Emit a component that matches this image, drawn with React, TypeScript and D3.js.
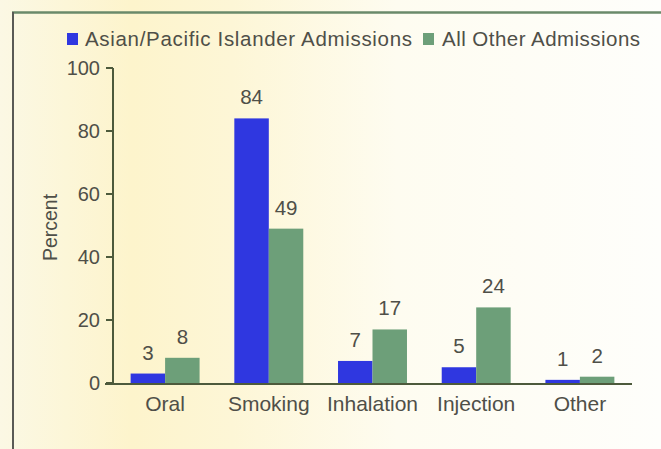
import React from "react";
import * as d3 from "d3";

const categories = ["Oral", "Smoking", "Inhalation", "Injection", "Other"];
const seriesNames = ["Asian/Pacific Islander Admissions", "All Other Admissions"];
const asianValues = [3, 84, 7, 5, 1];
const otherValues = [8, 49, 17, 24, 2];
const yTicks = [0, 20, 40, 60, 80, 100];

const W = 661;
const H = 449;
const FONT = "'Liberation Sans', Arial, Helvetica, sans-serif";
const TEXT = "#4f4f48";
const AXIS = "#4d5a3c";
const BLUE = "#2f37e0";
const GREEN = "#6d9f79";

export default function App() {
  const x = d3
    .scaleBand<string>()
    .domain(categories)
    .range([113, 632])
    .paddingInner(0.335)
    .paddingOuter(0.17);
  const xs = d3
    .scaleBand<string>()
    .domain(seriesNames)
    .range([0, x.bandwidth()]);
  const y = d3.scaleLinear().domain([0, 100]).range([383, 68]);
  const colors = [BLUE, GREEN];
  const series = [asianValues, otherValues];

  return (
    <svg
      width={W}
      height={H}
      style={{ position: "absolute", left: 0, top: 0, display: "block" }}
    >
      <defs>
        <linearGradient id="bg" x1="0" x2="1" y1="0" y2="0">
          <stop offset="0" stopColor="#fbf8e4" />
          <stop offset="0.2" stopColor="#fdf4cc" />
          <stop offset="0.35" stopColor="#fdf6d6" />
          <stop offset="0.6" stopColor="#fefcf0" />
          <stop offset="1" stopColor="#fefefb" />
        </linearGradient>
      </defs>
      <rect x={0} y={0} width={W} height={H} fill="url(#bg)" />
      {/* frame lines */}
      <line x1={12} x2={W} y1={12.5} y2={12.5} stroke="#6a8a6a" strokeWidth={2.5} />
      <line x1={13} x2={13} y1={12} y2={H} stroke="#5a5a55" strokeWidth={2} />

      {/* legend */}
      <g fontFamily={FONT} fontSize={20.5} fill={TEXT}>
        <rect x={67} y={33} width={11} height={12} fill={BLUE} />
        <text x={85} y={46} textLength={327} lengthAdjust="spacing">
          {seriesNames[0]}
        </text>
        <rect x={423} y={33} width={11} height={12} fill={GREEN} />
        <text x={442} y={46} textLength={198} lengthAdjust="spacing">
          {seriesNames[1]}
        </text>
      </g>

      {/* y axis */}
      <g fontFamily={FONT} fontSize={20} fill={TEXT}>
        <line x1={113} x2={113} y1={y(100)} y2={y(0)} stroke={AXIS} strokeWidth={2} />
        {yTicks.map((t) => (
          <g key={t}>
            <line x1={106} x2={113} y1={y(t)} y2={y(t)} stroke={AXIS} strokeWidth={2} />
            <text x={100} y={y(t)} dy="0.35em" textAnchor="end">
              {t}
            </text>
          </g>
        ))}
        <text
          transform={`translate(57,${(y(0) + y(100)) / 2 + 2}) rotate(-90)`}
          textAnchor="middle"
          fontSize={19.5}
        >
          Percent
        </text>
      </g>

      {/* bars */}
      {series.map((vals, si) =>
        vals.map((v, i) => (
          <rect
            key={`${si}-${i}`}
            x={(x(categories[i]) ?? 0) + (xs(seriesNames[si]) ?? 0)}
            y={y(v)}
            width={xs.bandwidth()}
            height={y(0) - y(v)}
            fill={colors[si]}
          />
        ))
      )}

      {/* value labels */}
      <g fontFamily={FONT} fontSize={20.5} fill={TEXT} textAnchor="middle">
        {series.map((vals, si) =>
          vals.map((v, i) => (
            <text
              key={`${si}-${i}`}
              x={(x(categories[i]) ?? 0) + (xs(seriesNames[si]) ?? 0) + xs.bandwidth() / 2}
              y={y(v) - 14}
            >
              {v}
            </text>
          ))
        )}
      </g>

      {/* x axis baseline */}
      <line x1={105} x2={632} y1={384} y2={384} stroke={AXIS} strokeWidth={2} />
      <g fontFamily={FONT} fontSize={21} fill={TEXT} textAnchor="middle">
        {categories.map((c) => (
          <text key={c} x={(x(c) ?? 0) + x.bandwidth() / 2} y={411}>
            {c}
          </text>
        ))}
      </g>
    </svg>
  );
}
